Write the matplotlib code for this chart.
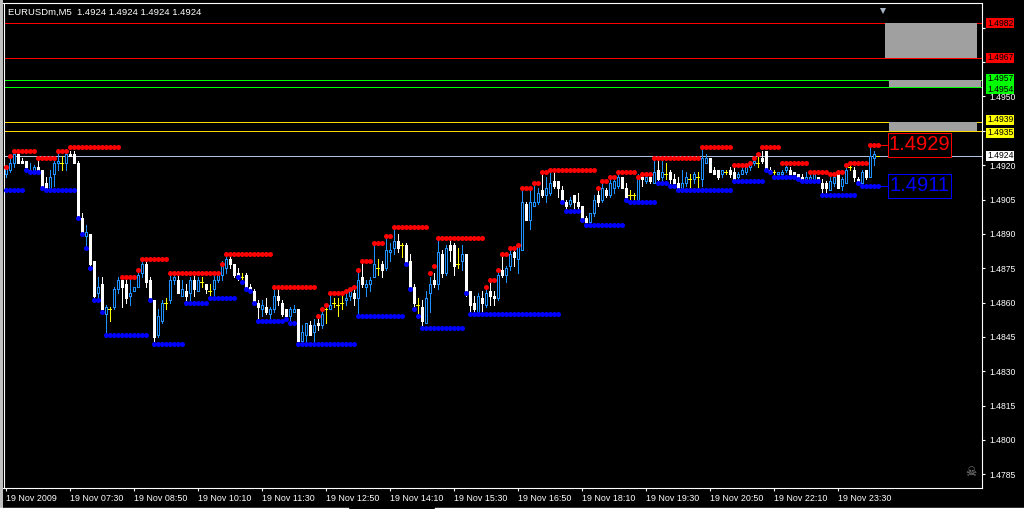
import numpy as np
import matplotlib.pyplot as plt
from matplotlib.patches import Rectangle
from matplotlib.transforms import blended_transform_factory, offset_copy

# EURUSD M5 bars
opens = [
    1.4916, 1.4918, 1.4921, 1.4925, 1.4922, 1.4922, 1.4917, 1.4917, 1.4919, 1.4918,
    1.4912, 1.4910, 1.4916, 1.4921, 1.4921, 1.4921, 1.4925, 1.4925, 1.4921, 1.4897,
    1.4889, 1.4890, 1.4878, 1.4864, 1.4868, 1.4855, 1.4857, 1.4858, 1.4866, 1.4870,
    1.4868, 1.4863, 1.4865, 1.4867, 1.4873, 1.4877, 1.4870, 1.4861, 1.4846, 1.4852,
    1.4860, 1.4861, 1.4870, 1.4870, 1.4863, 1.4865, 1.4864, 1.4870, 1.4865, 1.4869,
    1.4868, 1.4865, 1.4866, 1.4870, 1.4872, 1.4875, 1.4879, 1.4877, 1.4873, 1.4871,
    1.4872, 1.4867, 1.4865, 1.4860, 1.4857, 1.4858, 1.4855, 1.4857, 1.4863, 1.4860,
    1.4857, 1.4854, 1.4856, 1.4857, 1.4843, 1.4846, 1.4850, 1.4847, 1.4851, 1.4850,
    1.4857, 1.4857, 1.4860, 1.4859, 1.4860, 1.4861, 1.4863, 1.4864, 1.4862, 1.4871,
    1.4867, 1.4868, 1.4871, 1.4875, 1.4877, 1.4875, 1.4882, 1.4884, 1.4887, 1.4885,
    1.4885, 1.4878, 1.4867, 1.4859, 1.4858, 1.4851, 1.4864, 1.4870, 1.4868, 1.4881,
    1.4873, 1.4885, 1.4885, 1.4877, 1.4878, 1.4881, 1.4865, 1.4860, 1.4856, 1.4862,
    1.4859, 1.4865, 1.4863, 1.4862, 1.4874, 1.4872, 1.4876, 1.4882, 1.4879, 1.4883,
    1.4903, 1.4896, 1.4902, 1.4904, 1.4909, 1.4907, 1.4908, 1.4913, 1.4913, 1.4909,
    1.4904, 1.4903, 1.4907, 1.4904, 1.4902, 1.4897, 1.4895, 1.4899, 1.4907, 1.4905,
    1.4909, 1.4907, 1.4910, 1.4911, 1.4915, 1.4910, 1.4907, 1.4907, 1.4905, 1.4915,
    1.4913, 1.4915, 1.4912, 1.4918, 1.4915, 1.4916, 1.4917, 1.4914, 1.4912, 1.4910,
    1.4912, 1.4914, 1.4914, 1.4915, 1.4914, 1.4921, 1.4923, 1.4918, 1.4918, 1.4916,
    1.4917, 1.4918, 1.4917, 1.4915, 1.4916, 1.4917, 1.4919, 1.4921, 1.4921, 1.4923,
    1.4926, 1.4918, 1.4917, 1.4916, 1.4916, 1.4918, 1.4918, 1.4917, 1.4916, 1.4915,
    1.4913, 1.4913, 1.4913, 1.4915, 1.4912, 1.4912, 1.4909, 1.4912, 1.4916, 1.4911,
    1.4912, 1.4919, 1.4918, 1.4914, 1.4912, 1.4918, 1.4915, 1.4923, 1.4924,
]
highs = [
    1.4920, 1.4924, 1.4925, 1.4926, 1.4923, 1.4922, 1.4921, 1.4920, 1.4922, 1.4918,
    1.4915, 1.4918, 1.4922, 1.4925, 1.4924, 1.4926, 1.4926, 1.4926, 1.4922, 1.4899,
    1.4894, 1.4890, 1.4878, 1.4871, 1.4871, 1.4859, 1.4858, 1.4867, 1.4871, 1.4871,
    1.4870, 1.4870, 1.4867, 1.4873, 1.4878, 1.4878, 1.4871, 1.4861, 1.4857, 1.4861,
    1.4862, 1.4872, 1.4873, 1.4872, 1.4870, 1.4868, 1.4871, 1.4872, 1.4871, 1.4871,
    1.4868, 1.4868, 1.4872, 1.4873, 1.4878, 1.4881, 1.4880, 1.4877, 1.4875, 1.4873,
    1.4873, 1.4868, 1.4866, 1.4861, 1.4861, 1.4862, 1.4858, 1.4867, 1.4866, 1.4861,
    1.4857, 1.4858, 1.4859, 1.4857, 1.4850, 1.4851, 1.4852, 1.4853, 1.4854, 1.4857,
    1.4859, 1.4863, 1.4862, 1.4862, 1.4863, 1.4865, 1.4866, 1.4867, 1.4874, 1.4877,
    1.4870, 1.4871, 1.4885, 1.4879, 1.4878, 1.4889, 1.4886, 1.4892, 1.4890, 1.4886,
    1.4886, 1.4881, 1.4868, 1.4862, 1.4861, 1.4865, 1.4871, 1.4873, 1.4888, 1.4883,
    1.4885, 1.4887, 1.4886, 1.4884, 1.4885, 1.4881, 1.4865, 1.4863, 1.4864, 1.4865,
    1.4867, 1.4870, 1.4865, 1.4874, 1.4881, 1.4876, 1.4884, 1.4884, 1.4885, 1.4910,
    1.4904, 1.4911, 1.4912, 1.4910, 1.4917, 1.4915, 1.4918, 1.4917, 1.4913, 1.4911,
    1.4905, 1.4906, 1.4907, 1.4908, 1.4902, 1.4898, 1.4899, 1.4907, 1.4911, 1.4912,
    1.4910, 1.4915, 1.4915, 1.4916, 1.4915, 1.4912, 1.4909, 1.4908, 1.4916, 1.4917,
    1.4917, 1.4916, 1.4923, 1.4922, 1.4922, 1.4921, 1.4918, 1.4916, 1.4915, 1.4918,
    1.4917, 1.4916, 1.4917, 1.4917, 1.4928, 1.4925, 1.4923, 1.4919, 1.4918, 1.4918,
    1.4918, 1.4919, 1.4919, 1.4917, 1.4919, 1.4919, 1.4922, 1.4924, 1.4925, 1.4926,
    1.4926, 1.4919, 1.4918, 1.4917, 1.4918, 1.4920, 1.4919, 1.4917, 1.4916, 1.4916,
    1.4917, 1.4916, 1.4917, 1.4915, 1.4914, 1.4913, 1.4915, 1.4916, 1.4917, 1.4915,
    1.4919, 1.4920, 1.4919, 1.4915, 1.4918, 1.4918, 1.4929, 1.4926, 1.4924,
]
lows = [
    1.4915, 1.4917, 1.4919, 1.4921, 1.4921, 1.4918, 1.4917, 1.4917, 1.4918, 1.4910,
    1.4910, 1.4910, 1.4911, 1.4918, 1.4918, 1.4918, 1.4924, 1.4921, 1.4897, 1.4890,
    1.4885, 1.4875, 1.4861, 1.4862, 1.4856, 1.4846, 1.4852, 1.4857, 1.4864, 1.4858,
    1.4860, 1.4859, 1.4865, 1.4867, 1.4871, 1.4867, 1.4861, 1.4843, 1.4845, 1.4851,
    1.4857, 1.4860, 1.4868, 1.4864, 1.4863, 1.4859, 1.4861, 1.4863, 1.4865, 1.4867,
    1.4864, 1.4862, 1.4863, 1.4869, 1.4870, 1.4873, 1.4875, 1.4871, 1.4870, 1.4870,
    1.4866, 1.4864, 1.4859, 1.4853, 1.4854, 1.4855, 1.4853, 1.4856, 1.4859, 1.4854,
    1.4853, 1.4851, 1.4856, 1.4842, 1.4842, 1.4842, 1.4846, 1.4843, 1.4848, 1.4849,
    1.4851, 1.4857, 1.4858, 1.4854, 1.4857, 1.4859, 1.4861, 1.4859, 1.4854, 1.4867,
    1.4863, 1.4865, 1.4871, 1.4872, 1.4871, 1.4874, 1.4878, 1.4881, 1.4882, 1.4880,
    1.4876, 1.4865, 1.4858, 1.4854, 1.4850, 1.4851, 1.4856, 1.4867, 1.4866, 1.4871,
    1.4872, 1.4878, 1.4872, 1.4875, 1.4874, 1.4863, 1.4856, 1.4855, 1.4856, 1.4856,
    1.4858, 1.4859, 1.4859, 1.4861, 1.4871, 1.4869, 1.4874, 1.4876, 1.4873, 1.4883,
    1.4896, 1.4892, 1.4902, 1.4903, 1.4906, 1.4904, 1.4907, 1.4910, 1.4906, 1.4903,
    1.4901, 1.4902, 1.4901, 1.4901, 1.4896, 1.4894, 1.4894, 1.4898, 1.4902, 1.4904,
    1.4906, 1.4906, 1.4908, 1.4910, 1.4910, 1.4905, 1.4905, 1.4905, 1.4905, 1.4911,
    1.4912, 1.4912, 1.4912, 1.4912, 1.4912, 1.4914, 1.4912, 1.4910, 1.4909, 1.4909,
    1.4911, 1.4910, 1.4912, 1.4910, 1.4911, 1.4921, 1.4917, 1.4916, 1.4914, 1.4915,
    1.4916, 1.4915, 1.4914, 1.4914, 1.4916, 1.4916, 1.4918, 1.4920, 1.4919, 1.4921,
    1.4918, 1.4917, 1.4916, 1.4915, 1.4915, 1.4917, 1.4915, 1.4915, 1.4914, 1.4914,
    1.4912, 1.4912, 1.4912, 1.4912, 1.4908, 1.4907, 1.4909, 1.4911, 1.4910, 1.4909,
    1.4912, 1.4918, 1.4913, 1.4912, 1.4912, 1.4914, 1.4915, 1.4920, 1.4924,
]
closes = [
    1.4919, 1.4921, 1.4925, 1.4921, 1.4921, 1.4919, 1.4918, 1.4919, 1.4918, 1.4911,
    1.4910, 1.4915, 1.4921, 1.4922, 1.4921, 1.4925, 1.4924, 1.4921, 1.4898, 1.4891,
    1.4891, 1.4877, 1.4863, 1.4867, 1.4857, 1.4858, 1.4857, 1.4866, 1.4870, 1.4867,
    1.4862, 1.4864, 1.4867, 1.4872, 1.4877, 1.4869, 1.4861, 1.4845, 1.4854, 1.4860,
    1.4860, 1.4870, 1.4871, 1.4864, 1.4866, 1.4863, 1.4870, 1.4866, 1.4870, 1.4869,
    1.4866, 1.4865, 1.4870, 1.4873, 1.4877, 1.4879, 1.4877, 1.4872, 1.4871, 1.4871,
    1.4867, 1.4865, 1.4860, 1.4858, 1.4859, 1.4856, 1.4857, 1.4863, 1.4861, 1.4855,
    1.4854, 1.4857, 1.4857, 1.4843, 1.4847, 1.4851, 1.4846, 1.4850, 1.4850, 1.4855,
    1.4857, 1.4859, 1.4860, 1.4859, 1.4860, 1.4862, 1.4865, 1.4862, 1.4870, 1.4868,
    1.4868, 1.4870, 1.4877, 1.4875, 1.4874, 1.4883, 1.4883, 1.4887, 1.4884, 1.4885,
    1.4877, 1.4866, 1.4860, 1.4859, 1.4852, 1.4862, 1.4868, 1.4868, 1.4882, 1.4873,
    1.4884, 1.4883, 1.4876, 1.4877, 1.4881, 1.4864, 1.4859, 1.4857, 1.4863, 1.4860,
    1.4864, 1.4863, 1.4862, 1.4872, 1.4872, 1.4875, 1.4881, 1.4880, 1.4885, 1.4904,
    1.4896, 1.4904, 1.4904, 1.4908, 1.4907, 1.4910, 1.4912, 1.4911, 1.4910, 1.4905,
    1.4902, 1.4905, 1.4904, 1.4902, 1.4896, 1.4895, 1.4899, 1.4905, 1.4904, 1.4910,
    1.4907, 1.4912, 1.4913, 1.4915, 1.4910, 1.4906, 1.4907, 1.4907, 1.4915, 1.4914,
    1.4915, 1.4913, 1.4917, 1.4914, 1.4917, 1.4916, 1.4914, 1.4912, 1.4910, 1.4912,
    1.4915, 1.4914, 1.4916, 1.4915, 1.4923, 1.4923, 1.4917, 1.4916, 1.4915, 1.4918,
    1.4917, 1.4916, 1.4914, 1.4916, 1.4918, 1.4919, 1.4921, 1.4922, 1.4921, 1.4922,
    1.4918, 1.4917, 1.4917, 1.4917, 1.4917, 1.4919, 1.4916, 1.4916, 1.4915, 1.4914,
    1.4915, 1.4915, 1.4916, 1.4913, 1.4910, 1.4910, 1.4913, 1.4915, 1.4910, 1.4914,
    1.4918, 1.4919, 1.4915, 1.4913, 1.4917, 1.4915, 1.4924, 1.4925, 1.4924,
]

time_labels = ['19 Nov 2009', '19 Nov 07:30', '19 Nov 08:50', '19 Nov 10:10', '19 Nov 11:30',
               '19 Nov 12:50', '19 Nov 14:10', '19 Nov 15:30', '19 Nov 16:50', '19 Nov 18:10',
               '19 Nov 19:30', '19 Nov 20:50', '19 Nov 22:10', '19 Nov 23:30']
bars_per_label = 16

# (first bar, last bar, price) of the dotted resistance / support levels
resistance = [
    (0, 0, 1.4919), (1, 1, 1.4924), (2, 7, 1.4926), (8, 12, 1.4923), (13, 15, 1.4926),
    (16, 28, 1.4928), (29, 32, 1.4871), (33, 33, 1.4874), (34, 40, 1.4879), (41, 53, 1.4873),
    (54, 54, 1.4877), (55, 66, 1.4881), (67, 77, 1.4867), (78, 78, 1.4854), (79, 79, 1.4857),
    (80, 80, 1.4859), (81, 84, 1.4864), (85, 85, 1.4865), (86, 86, 1.4866), (87, 87, 1.4867),
    (88, 88, 1.4874), (89, 91, 1.4878), (92, 94, 1.4886), (95, 96, 1.4889), (97, 105, 1.4893),
    (106, 106, 1.4873), (107, 107, 1.4876), (108, 119, 1.4888), (120, 120, 1.4867),
    (121, 122, 1.4870), (123, 123, 1.4874), (124, 125, 1.4881), (126, 127, 1.4884),
    (128, 128, 1.4885), (129, 131, 1.4910), (132, 133, 1.4912), (134, 135, 1.4917),
    (136, 147, 1.4918), (148, 148, 1.4910), (149, 150, 1.4913), (151, 152, 1.4915),
    (153, 157, 1.4917), (158, 158, 1.4915), (159, 161, 1.4916), (162, 173, 1.4923),
    (174, 181, 1.4928), (182, 185, 1.4920), (186, 186, 1.4921), (187, 187, 1.4923),
    (188, 188, 1.4925), (189, 193, 1.4928), (194, 200, 1.4921), (201, 205, 1.4917),
    (206, 207, 1.4916), (208, 209, 1.4917), (210, 210, 1.4920), (211, 215, 1.4921),
    (216, 218, 1.4929),
]
support = [
    (0, 4, 1.4909), (5, 5, 1.4918), (6, 8, 1.4917), (9, 9, 1.4910), (10, 17, 1.4909),
    (18, 18, 1.4897), (19, 19, 1.4890), (20, 20, 1.4884), (21, 21, 1.4875), (22, 23, 1.4861),
    (24, 24, 1.4856), (25, 35, 1.4846), (36, 36, 1.4861), (37, 44, 1.4842), (45, 50, 1.4860),
    (51, 57, 1.4862), (58, 58, 1.4871), (59, 59, 1.4869), (60, 60, 1.4866), (61, 61, 1.4865),
    (62, 62, 1.4860), (63, 69, 1.4852), (70, 70, 1.4853), (71, 72, 1.4851), (73, 87, 1.4842),
    (88, 99, 1.4854), (100, 100, 1.4877), (101, 101, 1.4866), (102, 102, 1.4857),
    (103, 103, 1.4854), (104, 114, 1.4849), (115, 115, 1.4864), (116, 138, 1.4855),
    (139, 139, 1.4904), (140, 143, 1.4900), (144, 144, 1.4896), (145, 154, 1.4894),
    (155, 155, 1.4905), (156, 162, 1.4904), (163, 165, 1.4912), (166, 167, 1.4911),
    (168, 181, 1.4909), (182, 189, 1.4913), (190, 190, 1.4918), (191, 191, 1.4917),
    (192, 197, 1.4915), (198, 198, 1.4914), (199, 203, 1.4913), (204, 212, 1.4907),
    (213, 213, 1.4912), (214, 218, 1.4911),
]

symbol = 'EURUSDm,M5'
bid = 1.4924
levels = [1.4982, 1.4967, 1.4957, 1.4954, 1.4939, 1.4935]
level_line_colors = ['#FF0000', '#FF0000', '#00FF00', '#00FF00', '#FFD700', '#FFD700']
level_box_colors = ['#FF0000', '#FF0000', '#00FF00', '#00FF00', '#FFFF00', '#FFFF00']
zones = [(1.4967, 1.4982), (1.4954, 1.4957), (1.4935, 1.4939)]

BULL = '#1E90FF'
PX = 0.7  # about one pixel, in points
plt.rcParams['font.family'] = ['Liberation Sans', 'DejaVu Sans']

W, H = 1024, 509
fig = plt.figure(figsize=(W / 100, H / 100), dpi=100, facecolor='black')
ax = fig.add_axes([3.5 / W, 21 / H, 978.5 / W, 484.5 / H])
ax.set_facecolor('black')
ax.set_xlim(-0.55, 244.1)
ax.set_ylim(1.477902, 1.499059)
for sp in ax.spines.values():
    sp.set_color('white')
    sp.set_linewidth(0.8)

# horizontal levels + grey zones
for lvl, col in zip(levels, level_line_colors):
    ax.axhline(lvl, color=col, lw=PX, zorder=1, antialiased=False)
zone_x = [(219.75, 242.75), (220.75, 243.75), (220.75, 242.75)]
for (lo, hi), (x0, x1) in zip(zones, zone_x):
    ax.add_patch(Rectangle((x0, lo), x1 - x0, hi - lo, facecolor='#A0A0A0', edgecolor='none', zorder=1.5))
ax.axhline(bid, color='#B0C4DE', lw=PX, zorder=1, antialiased=False)

# candles
o, h, l, c = (np.array(v) for v in (opens, highs, lows, closes))
x = np.arange(len(c))
bull, bear, doji = c > o, c < o, c == o
ax.vlines(x[bull], l[bull], h[bull], color=BULL, lw=PX, zorder=3, antialiased=False)
ax.bar(x[bull], c[bull] - o[bull], bottom=o[bull], width=0.5, facecolor='black',
       edgecolor=BULL, lw=PX, zorder=4, antialiased=False)
ax.vlines(x[bear], l[bear], h[bear], color='white', lw=PX, zorder=3, antialiased=False)
ax.bar(x[bear], o[bear] - c[bear], bottom=c[bear], width=0.5, facecolor='white',
       edgecolor='white', lw=PX, zorder=4, antialiased=False)
ax.vlines(x[doji], l[doji], h[doji], color='#FFFF00', lw=PX, zorder=3, antialiased=False)
ax.hlines(c[doji], x[doji] - 0.45, x[doji] + 0.45, color='#FFFF00', lw=PX, zorder=4,
          antialiased=False)

# dotted levels
for segs, col in ((resistance, '#FF0000'), (support, '#0000FF')):
    for s, e, lvl in segs:
        xs = np.arange(s, e + 1)
        ax.plot(xs, [lvl] * len(xs), 'o', color=col, ms=3.6, mew=0, zorder=5)

# boxed current resistance / support values
last = len(c) - 1
half = 12 / 22900
for (s, e, lvl), col in ((resistance[-1], '#FF0000'), (support[-1], '#0000FF')):
    ax.plot([last, 220.5], [lvl, lvl], color=col, lw=PX, zorder=5, antialiased=False)
    ax.add_patch(Rectangle((220.5, lvl - half), 15.75, 2 * half, facecolor='black',
                           edgecolor=col, lw=PX, zorder=6, antialiased=False))
    ax.text(228.4, lvl, f'{lvl:.4f}', color=col, fontsize=14.5,
            ha='center', va='center', zorder=7)

# time axis
ax.set_xticks(np.arange(len(time_labels)) * bars_per_label)
ax.set_xticklabels(time_labels, ha='left')
ax.tick_params(axis='x', colors='white', direction='out', length=2.5, width=0.8,
               labelsize=6.4, pad=1.5)

# price axis (labels hidden where a level box covers them)
ax.yaxis.tick_right()
yt = np.round(np.arange(1.4785, 1.49801, 0.0015), 4)
ax.set_yticks(yt)
covered = [v for v in yt if any(abs(v - lv) < 0.00031 for lv in levels)]
ax.set_yticklabels(['' if v in covered else f'{v:.4f}' for v in yt])
ax.tick_params(axis='y', colors='white', direction='out', length=2.5, width=0.8,
               labelsize=6.2, pad=3)

trans = blended_transform_factory(ax.transAxes, ax.transData)
nudges = [0, 0, 1.8, -1.8, 1.8, -1.8, 0]
for (lvl, col), dy in zip(list(zip(levels, level_box_colors)) + [(bid, 'white')], nudges):
    ax.text(1 + 5 / 978.5, lvl, f'{lvl:.4f}', color='black', fontsize=6.2,
            transform=offset_copy(trans, fig=fig, x=0, y=dy, units='dots'),
            ha='left', va='center', clip_on=False, zorder=10,
            bbox=dict(boxstyle='square,pad=0.06', facecolor=col, edgecolor='none'))

# chart shift marker
ax.plot([219.3], [0.985], marker='v', color='#A8B4C4', ms=5, mew=0,
        transform=blended_transform_factory(ax.transData, ax.transAxes), clip_on=False, zorder=8)

# window decorations
fig.patches.append(Rectangle((0, 0), 2.5 / W, 1, transform=fig.transFigure,
                             facecolor='#C0C0C0', edgecolor='none'))
fig.add_artist(plt.Line2D([0, 348 / W], [1.5 / H, 1.5 / H], color='white', lw=1))
fig.add_artist(plt.Line2D([435 / W, 1], [1.5 / H, 1.5 / H], color='white', lw=1))

fig.text(8 / W, 1 - 12 / H, f'{symbol}  ' + ' '.join(f'{v:.4f}' for v in (o[-1], h[-1], l[-1], c[-1])),
         color='white', fontsize=6.8, va='center', ha='left')
fig.text(971 / W, 1 - 473 / H, '\u2620', color='#909090', fontsize=9, family='DejaVu Sans',
         ha='center', va='center')

fig.savefig('out.png', dpi=100, facecolor='black')
